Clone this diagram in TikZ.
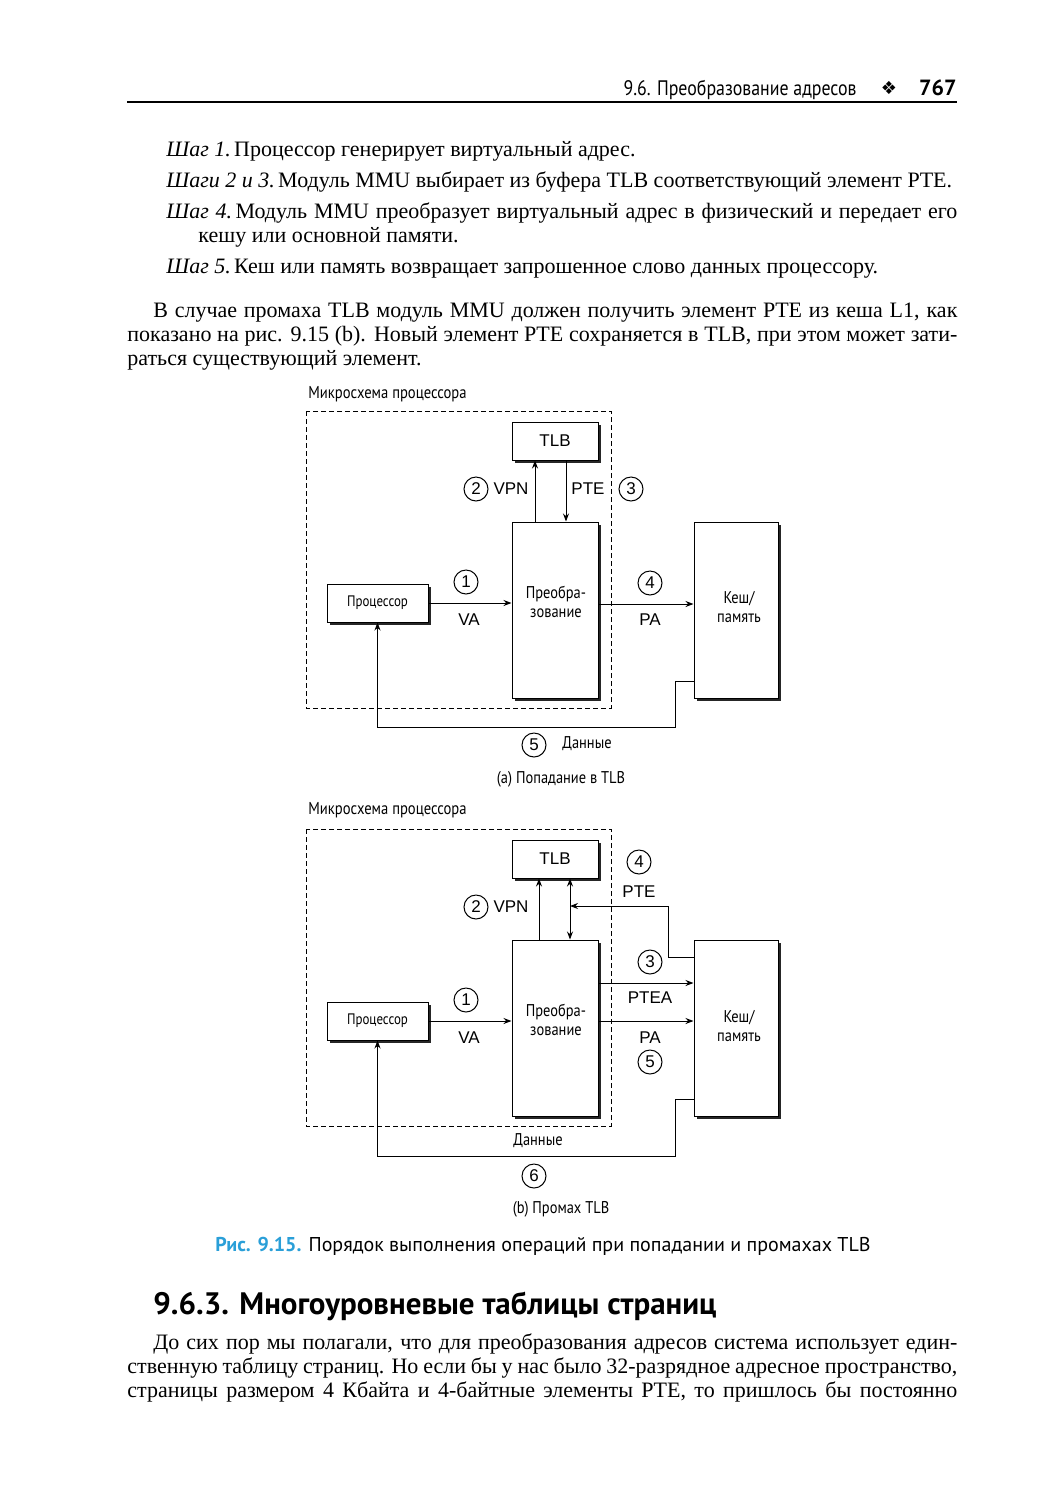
\documentclass[tikz,border=0pt]{standalone}
\usepackage{fontspec}
\setmainfont{Liberation Serif}
\newfontfamily\dg[FakeStretch=0.85]{PT Sans}
\newfontfamily\lb{Liberation Sans}
\newfontfamily\cf{PT Sans}
\newfontfamily\hf{PT Sans}
\newfontfamily\sy{DejaVu Sans}
\usetikzlibrary{arrows.meta,shadows}
\definecolor{capblue}{HTML}{2A9FD8}
\newcommand\JLine[2]{\makebox[#1][s]{#2}}
\newcommand\stp[1]{\textit{#1}\hspace{0.15em}}
\tikzset{
 bline/.style={anchor=base west, inner sep=0pt, font=\fontsize{11}{12}\selectfont},
 shbox/.style={draw, fill=white, line width=0.5pt, inner sep=0pt, drop shadow={shadow xshift=1.3pt, shadow yshift=-1.3pt, fill=black!85, opacity=1}},
 arr/.style={-{Stealth[length=4pt,width=3pt]}, line width=0.5pt},
 dbl/.style={{Stealth[length=4pt,width=3pt]}-{Stealth[length=4pt,width=3pt]}, line width=0.5pt},
 num/.style={circle, draw, line width=0.5pt, minimum size=12pt, inner sep=0pt, font=\lb\fontsize{8.5}{9}\selectfont},
 lab/.style={inner sep=0pt, font=\lb\fontsize{8.5}{9}\selectfont},
 dtxt/.style={inner sep=0pt, font=\dg\fontsize{8.5}{9.5}\selectfont, align=center},
 chiplbl/.style={inner sep=0pt, anchor=west, font=\dg\fontsize{8.6}{10}\selectfont},
 chip/.style={draw, dash pattern=on 2.5pt off 1.5pt, line width=0.5pt},
 capt/.style={inner sep=0pt, font=\dg\fontsize{8.5}{10}\selectfont},
 proc/.style={shbox, minimum width=50.5pt, minimum height=19pt, font=\dg\fontsize{7.6}{9}\selectfont},
}
\begin{document}
\begin{tikzpicture}[x=0.5pt,y=-0.5pt]
\useasboundingbox (0,0) rectangle (1053,1500);
% header
\node[anchor=base east, inner sep=0pt, font=\dg\fontsize{10.5}{12}\selectfont] (hdr) at (857,95) {9.6. Преобразование адресов};
\node[inner sep=0pt, font=\sy\fontsize{9}{10}\selectfont] (hsym) at (889,88) {❖};
\node[anchor=base east, inner sep=0pt, font=\cf\bfseries\fontsize{11}{12}\selectfont] (hpg) at (957,95) {767};
\draw[line width=0.6pt] (127,102) -- (957,102);
% steps
\node[bline] (s1) at (166,156) {\stp{Шаг 1.}Процессор генерирует виртуальный адрес.};
\node[bline] (s2) at (166,187) {\stp{Шаги 2 и 3.}Модуль MMU выбирает из буфера TLB соответствующий элемент PTE.};
\node[bline] (s4) at (166,218) {\JLine{395.5pt}{\stp{Шаг 4.}Модуль MMU преобразует виртуальный адрес в физический и передает его}};
\node[bline] (s4b) at (198,242) {кешу или основной памяти.};
\node[bline] (s5) at (166,273) {\stp{Шаг 5.}Кеш или память возвращает запрошенное слово данных процессору.};
\node[bline] (p1) at (153,317) {\JLine{402pt}{В случае промаха TLB модуль MMU должен получить элемент PTE из кеша L1, как}};
\node[bline] (p2) at (127,341) {\JLine{415pt}{показано на рис. 9.15 (b). Новый элемент PTE сохраняется в TLB, при этом может зати-}};
\node[bline] (p3) at (127,365) {раться существующий элемент.};
% ---------- diagram (a)
\node[chiplbl] (chipAl) at (308,394) {Микросхема процессора};
\draw[chip] (306,411) rectangle (611,708);
\node[shbox, minimum width=43pt, minimum height=19pt, font=\lb\fontsize{8.5}{9}\selectfont] (tlbA) at (555,441) {TLB};
\node[shbox, minimum width=43pt, minimum height=88pt] (trA) at (555,610) {};
\node[dtxt] (trAt) at (556,602) {Преобра-\\зование};
\node[proc] (prA) at (377.5,603) {Процессор};
\node[shbox, minimum width=42pt, minimum height=88pt] (caA) at (736,610) {};
\node[dtxt] (caAt) at (739,607) {Кеш/\\память};
\coordinate (vpnA) at (535,0);
\coordinate (pteA) at (566,0);
\coordinate (paA) at (0,604);
\coordinate (dA1) at (675,681);
\coordinate (dA2) at (675,727);
\draw[arr] (trA.north -| vpnA) -- (tlbA.south -| vpnA);
\draw[arr] (tlbA.south -| pteA) -- (trA.north -| pteA);
\draw[arr] (prA.east) -- (trA.west |- prA.east);
\draw[arr] (trA.east |- paA) -- (caA.west |- paA);
\draw[arr] (caA.west |- dA1) -- (dA1) -- (dA2) -- (prA.south |- dA2) -- (prA.south);
\node[num] (nA1) at (466,582) {1};
\node[lab] (vaA) at (469,620) {VA};
\node[num] (nA2) at (476,489) {2};
\node[lab] (vpnAl) at (511,489) {VPN};
\node[lab] (pteAl) at (588,489) {PTE};
\node[num] (nA3) at (631,489) {3};
\node[num] (nA4) at (650,583) {4};
\node[lab] (paAl) at (650,620) {PA};
\node[num] (nA5) at (534,745) {5};
\node[dtxt] (datA) at (587,744) {Данные};
\node[capt] (capA) at (561,779) {(a) Попадание в TLB};
% ---------- diagram (b)
\node[chiplbl] (chipBl) at (308,810) {Микросхема процессора};
\draw[chip] (306,829) rectangle (611,1126);
\node[shbox, minimum width=43pt, minimum height=19pt, font=\lb\fontsize{8.5}{9}\selectfont] (tlbB) at (555,859) {TLB};
\node[shbox, minimum width=43pt, minimum height=88pt] (trB) at (555,1028) {};
\node[dtxt] (trBt) at (556,1020) {Преобра-\\зование};
\node[proc] (prB) at (377.5,1021) {Процессор};
\node[shbox, minimum width=42pt, minimum height=88pt] (caB) at (736,1028) {};
\node[dtxt] (caBt) at (739,1026) {Кеш/\\память};
\coordinate (vpnB) at (539,0);
\coordinate (dblB) at (570,0);
\coordinate (pB1) at (668,957);
\coordinate (pB2) at (668,906);
\coordinate (pteaB) at (0,983);
\coordinate (paB) at (0,1021);
\coordinate (dB1) at (675,1099);
\coordinate (dB2) at (675,1156);
\draw[arr] (trB.north -| vpnB) -- (tlbB.south -| vpnB);
\draw[dbl] (trB.north -| dblB) -- (tlbB.south -| dblB);
\draw[arr] (caB.west |- pB1) -- (pB1) -- (pB2) -- (dblB |- pB2);
\draw[arr] (trB.east |- pteaB) -- (caB.west |- pteaB);
\draw[arr] (trB.east |- paB) -- (caB.west |- paB);
\draw[arr] (prB.east) -- (trB.west |- prB.east);
\draw[arr] (caB.west |- dB1) -- (dB1) -- (dB2) -- (prB.south |- dB2) -- (prB.south);
\node[num] (nB4) at (639,862) {4};
\node[lab] (pteBl) at (639,892) {PTE};
\node[num] (nB2) at (476,907) {2};
\node[lab] (vpnBl) at (511,907) {VPN};
\node[num] (nB3) at (650,962) {3};
\node[lab] (pteaBl) at (650,998) {PTEA};
\node[lab] (paBl) at (650,1038) {PA};
\node[num] (nB5) at (650,1062) {5};
\node[num] (nB1) at (466,1000) {1};
\node[lab] (vaB) at (469,1038) {VA};
\node[dtxt] (datB) at (538,1141) {Данные};
\node[num] (nB6) at (534,1176) {6};
\node[capt] (capB) at (561,1209) {(b) Промах TLB};
% caption
\node[anchor=base west, inner sep=0pt, font=\cf\fontsize{10}{12}\selectfont] (fcap) at (215,1251) {\textcolor{capblue}{\bfseries Рис. 9.15.} Порядок выполнения операций при попадании и промахах TLB};
% heading
\node[anchor=base west, inner sep=0pt, font=\hf\bfseries\fontsize{15.5}{18}\selectfont] (head) at (153,1314) {9.6.3. Многоуровневые таблицы страниц};
\node[bline] (q1) at (153,1349) {\JLine{402pt}{До сих пор мы полагали, что для преобразования адресов система использует един-}};
\node[bline] (q2) at (127,1373) {\JLine{415pt}{ственную таблицу страниц. Но если бы у нас было 32-разрядное адресное пространство,}};
\node[bline] (q3) at (127,1397) {\JLine{415pt}{страницы размером 4 Кбайта и 4-байтные элементы PTE, то пришлось бы постоянно}};
\end{tikzpicture}
\end{document}
